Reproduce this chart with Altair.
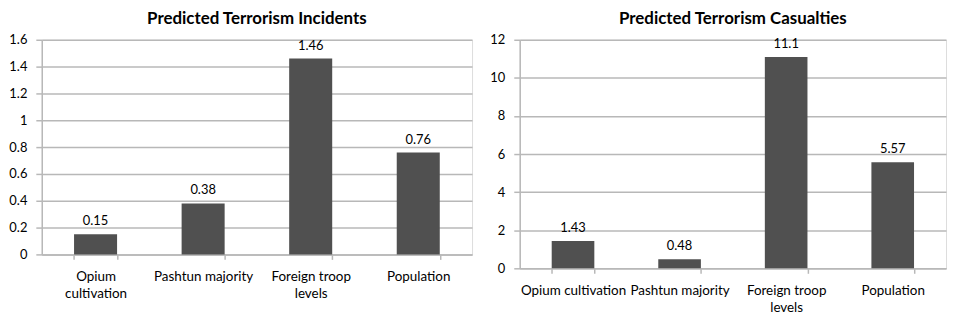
import altair as alt
import pandas as pd
import json

categories = ["Opium cultivation", "Pashtun majority", "Foreign troop levels", "Population"]
incidents = [0.15, 0.38, 1.46, 0.76]
casualties = [1.43, 0.48, 11.1, 5.57]
labels_left = [["Opium", "cultivation"], ["Pashtun majority"], ["Foreign troop", "levels"], ["Population"]]
labels_right = [["Opium cultivation"], ["Pashtun majority"], ["Foreign troop", "levels"], ["Population"]]
ticks_left = [0, 0.2, 0.4, 0.6, 0.8, 1, 1.2, 1.4, 1.6]
ticks_right = [0, 2, 4, 6, 8, 10, 12]

FONT = "Lato"
BAR = "#505050"
GRID = "#b8b8b8"


def label_expr(cats, labs):
    expr = "datum.value"
    for c, l in zip(reversed(cats), reversed(labs)):
        expr = f"datum.value == {json.dumps(c)} ? {json.dumps(l)} : ({expr})"
    return expr


def panel(values, labs, ticks, title, width, height):
    df = pd.DataFrame({"cat": categories, "val": values})
    x = alt.X(
        "cat:N",
        sort=categories,
        title=None,
        scale=alt.Scale(paddingInner=0.6, paddingOuter=0.3),
        axis=alt.Axis(
            labelAngle=0,
            labelExpr=label_expr(categories, labs),
            tickBand="extent",
            tickSize=5,
            tickColor=GRID,
            domainColor=GRID,
            domainWidth=1.5,
            tickWidth=1.5,
            labelPadding=10,
            labelLineHeight=17,
            labelFont=FONT,
            labelFontSize=13.5,
            labelColor="#000",
            labelBaseline="top",
        ),
    )
    y = alt.Y(
        "val:Q",
        title=None,
        scale=alt.Scale(domain=[ticks[0], ticks[-1]], nice=False),
        axis=alt.Axis(
            values=ticks,
            tickCount=len(ticks),
            labelOverlap=False,
            format="~g",
            grid=True,
            gridColor=GRID,
            gridWidth=1.5,
            tickSize=6,
            tickColor=GRID,
            tickWidth=1.5,
            domainColor=GRID,
            domainWidth=1.5,
            labelPadding=9,
            labelFont=FONT,
            labelFontSize=13,
            labelColor="#000",
        ),
    )
    base = alt.Chart(df)
    bars = base.mark_bar(color=BAR).encode(x=x, y=y)
    text = base.mark_text(baseline="bottom", dy=-6, font=FONT, fontSize=13, color="#000").encode(
        x=x,
        y=y,
        text=alt.Text("val:Q", format="~g"),
    )
    return (bars + text).properties(
        width=width,
        height=height,
        title=alt.TitleParams(title, font=FONT, fontSize=17, fontWeight="bold", color="#000", offset=6),
    )


left = panel(incidents, labels_left, ticks_left, "Predicted Terrorism Incidents", 433, 216)
right = panel(casualties, labels_right, ticks_right, "Predicted Terrorism Casualties", 429, 230)

chart = (
    alt.hconcat(left, right, spacing=16)
    .properties(padding=0)
    .configure_view(strokeWidth=0)
    .configure(background="white")
)

chart.save("out.html", embed_options={"renderer": "svg", "actions": False})
